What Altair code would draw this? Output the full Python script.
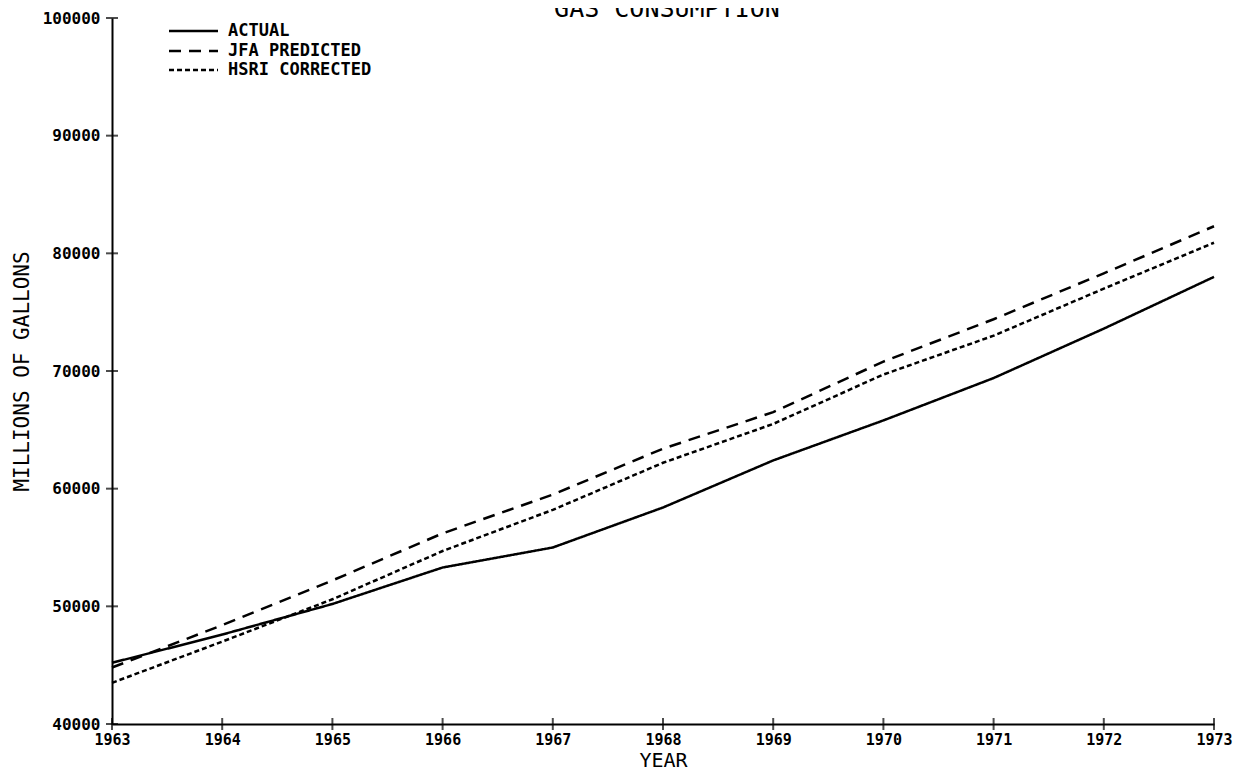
import altair as alt
import pandas as pd

years = [1963, 1964, 1965, 1966, 1967, 1968, 1969, 1970, 1971, 1972, 1973]
actual = [45200, 47600, 50200, 53300, 55000, 58400, 62400, 65800, 69400, 73600, 78000]
jfa_predicted = [44800, 48400, 52200, 56200, 59500, 63400, 66500, 70800, 74400, 78300, 82300]
hsri_corrected = [43500, 47000, 50600, 54700, 58200, 62200, 65500, 69700, 73000, 77000, 80900]
series_names = ["ACTUAL", "JFA PREDICTED", "HSRI CORRECTED"]
y_ticks = [40000, 50000, 60000, 70000, 80000, 90000, 100000]
title_text = "GAS CONSUMPTION"

FONT = "DejaVu Sans Mono"
W, H = 1102, 706

rows = []
for name, vals in zip(series_names, [actual, jfa_predicted, hsri_corrected]):
    for yr, v in zip(years, vals):
        rows.append({"year": yr, "value": v, "series": name})
df = pd.DataFrame(rows)

xscale = alt.Scale(domain=[1963, 1973], nice=False, zero=False)
yscale = alt.Scale(domain=[40000, 100000], nice=False, zero=False)
dashes = [[1, 0], [12, 8], [5, 3]]

x_enc = alt.X("year:Q", scale=xscale, axis=alt.Axis(
    values=years, format="d", title="YEAR", ticks=False, grid=False,
    domainColor="black", domainWidth=2, labelFont=FONT, labelFontSize=15,
    labelFontWeight="bold", labelColor="black", labelPadding=8,
    titleFont=FONT, titleFontSize=20, titleFontWeight="normal", titleColor="black",
    titlePadding=3, labelFlush=False))
y_enc = alt.Y("value:Q", scale=yscale, axis=alt.Axis(
    values=y_ticks, format="d", title="MILLIONS OF GALLONS", ticks=False, grid=False,
    domainColor="black", domainWidth=2, labelFont=FONT, labelFontSize=16,
    labelFontWeight="bold", labelColor="black", labelPadding=12,
    titleFont=FONT, titleFontSize=21, titleFontWeight="normal", titleColor="black",
    titlePadding=10, labelFlush=False))

lines = alt.Chart(df).mark_line(color="black", strokeWidth=2.5).encode(
    x=x_enc, y=y_enc,
    strokeDash=alt.StrokeDash("series:N", scale=alt.Scale(domain=series_names, range=dashes), legend=None),
    detail="series:N",
)

ytick_df = pd.DataFrame({"year": [years[0]] * len(y_ticks), "value": y_ticks})
yticks = alt.Chart(ytick_df).mark_tick(orient="horizontal", color="black", thickness=2, size=12).encode(
    x=alt.X("year:Q", scale=xscale), y=alt.Y("value:Q", scale=yscale))

xtick_df = pd.DataFrame({"year": years, "value": [y_ticks[0]] * len(years)})
xticks = alt.Chart(xtick_df).mark_tick(orient="vertical", color="black", thickness=2, size=12).encode(
    x=alt.X("year:Q", scale=xscale), y=alt.Y("value:Q", scale=yscale))

# Legend (drawn by hand, top-left)
leg_y = [13, 33, 52]
legend_layers = []
for name, dash, ly in zip(series_names, dashes, leg_y):
    leg_df = pd.DataFrame({"series": [name]})
    legend_layers.append(alt.Chart(leg_df).mark_rule(color="black", strokeWidth=2.5, strokeDash=dash).encode(
        x=alt.value(57), x2=alt.value(106), y=alt.value(ly)))
    legend_layers.append(alt.Chart(leg_df).mark_text(
        font=FONT, fontSize=17, fontWeight="bold", color="black", align="left", baseline="middle").encode(
        x=alt.value(116), y=alt.value(ly), text="series:N"))

title_df = pd.DataFrame({"t": [title_text]})
title = alt.Chart(title_df).mark_text(
    font=FONT, fontSize=25, color="black", align="center", baseline="alphabetic").encode(
    x=alt.value(W / 2 + 4), y=alt.value(-1), text="t:N")

chart = alt.layer(lines, yticks, xticks, *legend_layers, title).properties(
    width=W, height=H,
    autosize=alt.AutoSizeParams(type="none"),
    padding={"left": 104, "top": 10, "right": 21, "bottom": 52},
    background="white",
).configure_view(stroke=None)

chart.save("out.html", embed_options={"renderer": "svg", "actions": False})
